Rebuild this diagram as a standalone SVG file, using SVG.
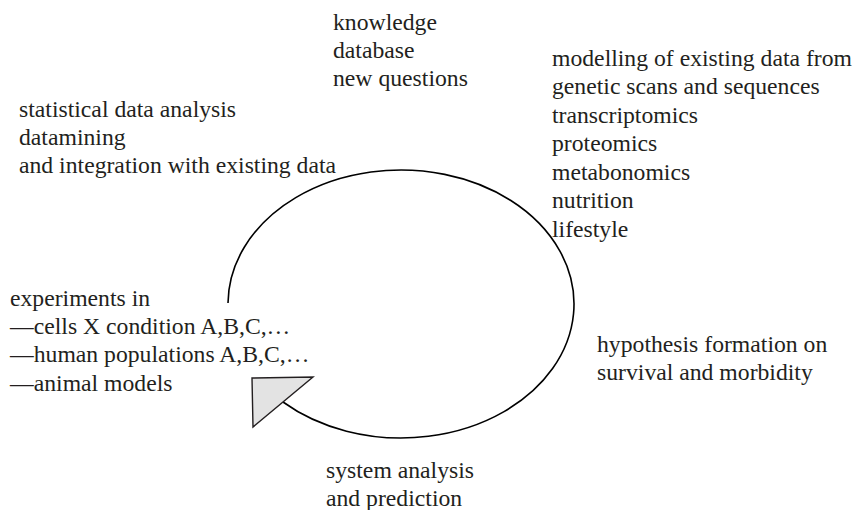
<svg xmlns="http://www.w3.org/2000/svg" width="856" height="510" viewBox="0 0 856 510">
<style>
text{font-family:"Liberation Serif","Times New Roman",serif;font-size:23.7px;fill:#231f20}
.ln{fill:none;stroke:#000;stroke-width:1.6}
.ah{fill:#e3e3e3;stroke:#231f20;stroke-width:1.4;stroke-linejoin:miter}
</style>
<rect width="856" height="510" fill="#fff"/>
<g id="connectors">
<path class="ln" d="M228 303 A173 134 0 1 1 283 402"/>
<polygon class="ah" points="252,378 313,377 253,427"/>
</g>
<g id="knowledge">
<text x="333" y="30">knowledge</text>
<text x="333" y="58">database</text>
<text x="333" y="86">new questions</text>
</g>
<g id="statistical">
<text x="19" y="117">statistical data analysis</text>
<text x="19" y="145">datamining</text>
<text x="19" y="173">and integration with existing data</text>
</g>
<g id="modelling">
<text x="552" y="66">modelling of existing data from</text>
<text x="552" y="94">genetic scans and sequences</text>
<text x="552" y="123">transcriptomics</text>
<text x="552" y="151">proteomics</text>
<text x="552" y="180">metabonomics</text>
<text x="552" y="208">nutrition</text>
<text x="552" y="237">lifestyle</text>
</g>
<g id="experiments">
<text x="10" y="306">experiments in</text>
<text x="10" y="334">—cells X condition A,B,C,…</text>
<text x="10" y="362">—human populations A,B,C,…</text>
<text x="10" y="391">—animal models</text>
</g>
<g id="hypothesis">
<text x="597" y="352">hypothesis formation on</text>
<text x="597" y="380">survival and morbidity</text>
</g>
<g id="system">
<text x="326" y="478">system analysis</text>
<text x="326" y="506">and prediction</text>
</g>
</svg>
